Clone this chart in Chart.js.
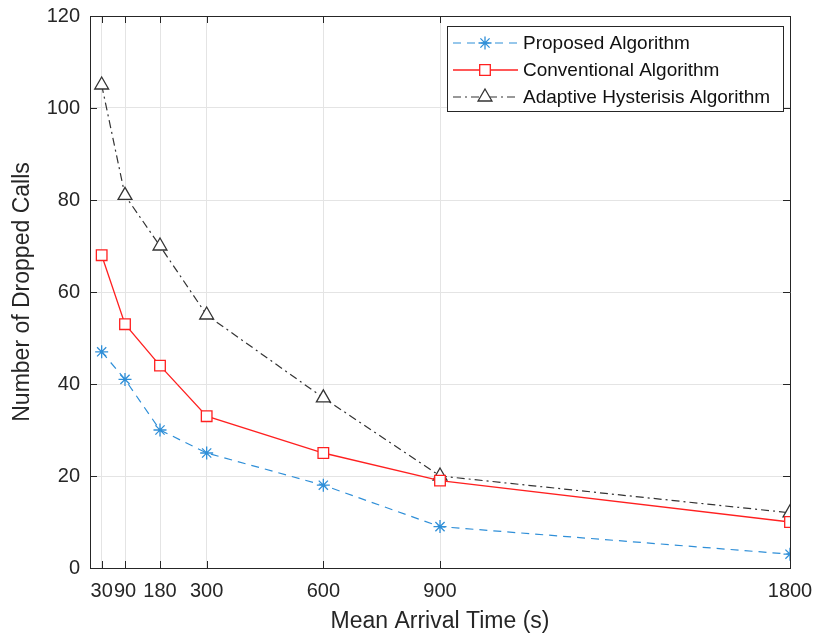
<!DOCTYPE html>
<html>
<head>
<meta charset="utf-8">
<script src="https://cdn.jsdelivr.net/npm/chart.js@4"></script>
<style>
  html, body { margin: 0; padding: 0; background: #fff; }
  #wrap { width: 816px; height: 641px; }
</style>
</head>
<body>
<div id="wrap"><canvas id="c" width="816" height="641"></canvas></div>
<script>
/* ---------- dados ---------- */
const arrivalTimes = [30, 90, 180, 300, 600, 900, 1800];
const proposed     = [47, 41, 30, 25, 18, 9, 3];
const conventional = [68, 53, 44, 33, 25, 19, 10];
const adaptive     = [105, 81, 70, 55, 37, 20, 12];
const seriesNames  = ['Proposed Algorithm', 'Conventional Algorithm', 'Adaptive Hysterisis Algorithm'];
const yTicks       = [0, 20, 40, 60, 80, 100, 120];

const AXIS_CO = '#262626';
const FONT = 'Arial, "Liberation Sans", sans-serif';
const pts = vals => vals.map((v, i) => ({ x: arrivalTimes[i], y: v }));

/* ---------- ticks para dentro + caixa ---------- */
const boxTicks = {
    id: 'boxTicks',
    afterDraw(chart) {
        const { ctx, chartArea: a, scales } = chart;
        const L = 7;
        ctx.save();
        ctx.strokeStyle = AXIS_CO;
        ctx.lineWidth = 1;
        ctx.beginPath();
        ctx.rect(a.left + 0.5, a.top + 0.5, a.right - a.left, a.bottom - a.top);
        arrivalTimes.forEach(t => {
            const x = Math.round(scales.x.getPixelForValue(t)) + 0.5;
            ctx.moveTo(x, a.bottom); ctx.lineTo(x, a.bottom - L);
            ctx.moveTo(x, a.top); ctx.lineTo(x, a.top + L);
        });
        yTicks.forEach(t => {
            const y = Math.round(scales.y.getPixelForValue(t)) + 0.5;
            ctx.moveTo(a.left, y); ctx.lineTo(a.left + L, y);
            ctx.moveTo(a.right, y); ctx.lineTo(a.right - L, y);
        });
        ctx.stroke();
        ctx.restore();
    }
};

/* ---------- legenda dentro do gráfico ---------- */
const boxLegend = {
    id: 'boxLegend',
    afterDraw(chart) {
        const { ctx, chartArea: a } = chart;
        const x0 = a.left + 357, y0 = a.top + 10, w = 336, h = 85;
        ctx.save();
        ctx.fillStyle = '#fff';
        ctx.fillRect(x0, y0, w, h);
        ctx.strokeStyle = AXIS_CO;
        ctx.lineWidth = 1;
        ctx.strokeRect(x0 + 0.5, y0 + 0.5, w, h);
        ctx.font = '19px ' + FONT;
        ctx.textBaseline = 'middle';
        chart.data.datasets.forEach((ds, i) => {
            const y = y0 + 17 + i * 27;
            ctx.strokeStyle = ds.borderColor;
            ctx.lineWidth = ds.borderWidth;
            ctx.setLineDash(ds.borderDash || []);
            ctx.beginPath();
            ctx.moveTo(x0 + 6, y); ctx.lineTo(x0 + 71, y);
            ctx.stroke();
            ctx.setLineDash([]);
            ctx.fillStyle = ds.pointBackgroundColor;
            ctx.strokeStyle = ds.pointBorderColor;
            ctx.lineWidth = ds.pointBorderWidth;
            Chart.helpers.drawPoint(ctx, {
                pointStyle: ds.pointStyle, radius: ds.pointRadius,
                borderWidth: ds.pointBorderWidth, rotation: 0
            }, x0 + 38, y);
            ctx.fillStyle = '#111';
            ctx.fillText(ds.label, x0 + 76, y + 1);
        });
        ctx.restore();
    }
};

new Chart(document.getElementById('c').getContext('2d'), {
    type: 'line',
    data: {
        datasets: [{
            label: seriesNames[0],
            data: pts(proposed),
            borderColor: '#2f8fd8',
            backgroundColor: '#2f8fd8',
            borderWidth: 1.2,
            borderDash: [8, 6],
            pointStyle: 'star',
            pointRadius: 6.5,
            pointBorderWidth: 1.3,
            pointBackgroundColor: '#2f8fd8',
            pointBorderColor: '#2f8fd8'
        }, {
            label: seriesNames[1],
            data: pts(conventional),
            borderColor: '#ff2020',
            backgroundColor: 'rgba(0,0,0,0)',
            borderWidth: 1.3,
            pointStyle: 'rect',
            pointRadius: 7.5,
            pointBorderWidth: 1.3,
            pointBackgroundColor: '#fff',
            pointBorderColor: '#ff2020'
        }, {
            label: seriesNames[2],
            data: pts(adaptive),
            borderColor: '#333333',
            backgroundColor: 'rgba(0,0,0,0)',
            borderWidth: 1.2,
            borderDash: [8, 4, 2, 4],
            pointStyle: 'triangle',
            pointRadius: 8,
            pointBorderWidth: 1.3,
            pointBackgroundColor: '#fff',
            pointBorderColor: '#333333'
        }]
    },
    options: {
        responsive: false,
        animation: false,
        layout: { padding: { top: 16, right: 26, left: 0, bottom: 0 } },
        plugins: { legend: { display: false }, tooltip: { enabled: false } },
        scales: {
            x: {
                type: 'linear', min: 0, max: 1800,
                afterBuildTicks: s => { s.ticks = arrivalTimes.map(v => ({ value: v })); },
                afterFit: s => { s.height = 73; s.paddingLeft = 0; s.paddingRight = 0; },
                grid: { color: '#e4e4e4', drawTicks: false },
                border: { color: AXIS_CO, width: 1 },
                ticks: { autoSkip: false, maxRotation: 0, padding: 11, color: AXIS_CO,
                         font: { size: 20, family: FONT }, callback: v => String(v) },
                title: { display: true, text: 'Mean Arrival Time (s)', color: AXIS_CO,
                         font: { size: 23, family: FONT }, padding: { top: 0, bottom: 6 } }
            },
            y: {
                min: 0, max: 120,
                afterBuildTicks: s => { s.ticks = yTicks.map(v => ({ value: v })); },
                afterFit: s => { s.width = 90; s.paddingTop = 0; s.paddingBottom = 0; },
                grid: { color: '#e4e4e4', drawTicks: false },
                border: { color: AXIS_CO, width: 1 },
                ticks: { padding: 10, color: AXIS_CO, font: { size: 20, family: FONT } },
                title: { display: true, text: 'Number of Dropped Calls', color: AXIS_CO,
                         font: { size: 23, family: FONT }, padding: { top: 9, bottom: 0 } }
            }
        }
    },
    plugins: [boxTicks, boxLegend]
});
</script>
</body>
</html>
